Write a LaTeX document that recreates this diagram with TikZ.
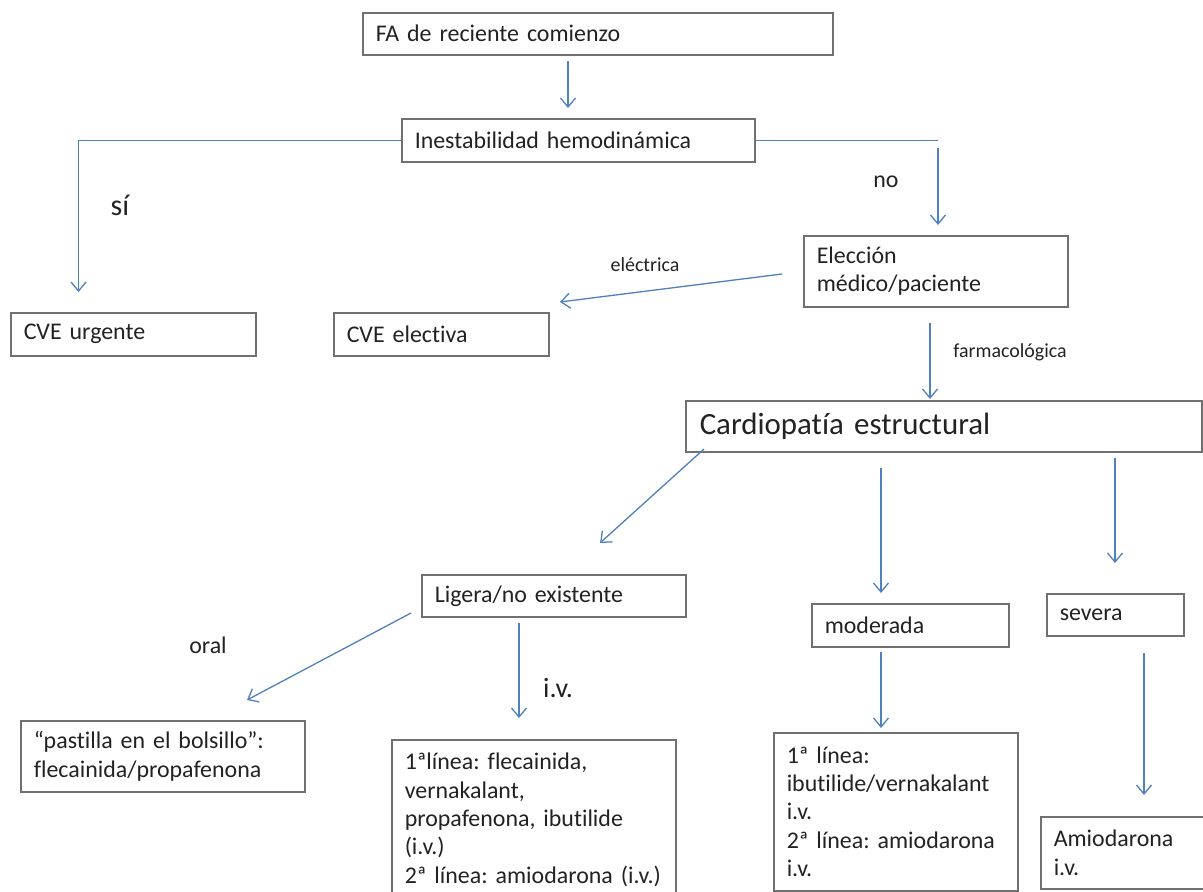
\documentclass[tikz,border=0pt]{standalone}
\usepackage{fontspec}
\setmainfont[Ligatures=NoCommon]{Carlito}
\usetikzlibrary{arrows.meta,calc}
\definecolor{flow}{HTML}{4F81BD}
\definecolor{frame}{HTML}{707070}
\definecolor{ink}{HTML}{222222}
\frenchspacing
\begin{document}
\begin{tikzpicture}[x=1bp,y=-1bp,
  box/.style={draw=frame, line width=1.5bp, anchor=north west, inner xsep=13bp,
    inner ysep=0bp, align=left, text=ink, font=\fontsize{24}{28.5}\selectfont},
  conn/.style={draw=flow, line width=1.3bp,
    -{Straight Barb[length=9bp,width=15bp,line width=1.3bp]}},
  plain/.style={draw=flow, line width=1.3bp},
  lbl/.style={text=ink, inner sep=0pt, font=\fontsize{24}{28}\selectfont},
  small/.style={lbl, font=\fontsize{20}{24}\selectfont}]

\useasboundingbox[fill=white] (0,0) rectangle (1203,892);

% decision boxes
\node[box, text width=444bp, minimum height=42bp] (fa) at (362,12) {FA de reciente comienzo};
\node[box, text width=327bp, minimum height=43bp] (inest) at (401,118) {Inestabilidad hemodinámica};
\node[box, text width=238bp, minimum height=71bp] (elec) at (803,235) {Elección\\médico/paciente};
\node[box, text width=219bp, minimum height=43bp] (cveu) at (10,312) {CVE urgente};
\node[box, text width=189bp, minimum height=43bp] (cvee) at (333,312) {CVE electiva};
\node[box, text width=488bp, minimum height=51bp, inner xsep=14bp,
      font=\fontsize{31}{36}\selectfont] (card) at (685,400) {Cardiopatía estructural};
\node[box, text width=238bp, minimum height=42bp] (lig) at (421,574) {Ligera/no existente};
\node[box, text width=171bp, minimum height=43bp] (mod) at (811,603) {moderada};
\node[box, text width=111bp, minimum height=42bp] (sev) at (1046,593) {severa};

% treatment boxes
\node[box, text width=258bp, minimum height=71bp] (past) at (20,720)
  {\mbox{“pastilla en el bolsillo”:}\\\mbox{flecainida/propafenona}};
\node[box, text width=258bp, minimum height=160bp] (lone) at (391,739)
  {\mbox{1ªlínea: flecainida,}\\vernakalant,\\\mbox{propafenona, ibutilide}\\(i.v.)\\\mbox{2ª línea: amiodarona (i.v.)}};
\node[box, text width=218bp, minimum height=158bp] (mone) at (773,732)
  {1ª línea:\\\mbox{ibutilide/vernakalant}\\i.v.\\\mbox{2ª línea: amiodarona}\\i.v.};
\node[box, text width=139bp, minimum height=72bp] (ami) at (1040,816) {Amiodarona\\i.v.};

% free ends of the connectors
\coordinate (faOut) at (568,61);
\coordinate (inestIn) at (568,108);
\coordinate (siTip) at (78.5,292);
\coordinate (noCorner) at (938,139.5);
\coordinate (noStart) at (938,148);
\coordinate (noTip) at (938,225);
\coordinate (elStart) at (782,274);
\coordinate (elTip) at (560,302);
\coordinate (faStart) at (930,323);
\coordinate (faTip) at (930,399);
\coordinate (ligStart) at (704,449);
\coordinate (ligTip) at (600,543);
\coordinate (modStart) at (881,468);
\coordinate (modTip) at (881,593);
\coordinate (sevStart) at (1115,458);
\coordinate (sevTip) at (1115,563);
\coordinate (oralStart) at (411,613);
\coordinate (oralTip) at (247,700);
\coordinate (ivStart) at (519,623);
\coordinate (ivTip) at (519,718);
\coordinate (mStart) at (881,652);
\coordinate (mTip) at (881,728);
\coordinate (sStart) at (1144,653);
\coordinate (sTip) at (1144,795);

% connectors
\draw[conn] (faOut) -- (inestIn);
\draw[conn] (inest.west) -| (siTip);
\draw[plain] (inest.east) -- (inest.east -| noCorner);
\draw[conn] (noStart) -- (noTip);
\draw[conn] (elStart) -- (elTip);
\draw[conn] (faStart) -- (faTip);
\draw[conn] (ligStart) -- (ligTip);
\draw[conn] (modStart) -- (modTip);
\draw[conn] (sevStart) -- (sevTip);
\draw[conn] (oralStart) -- (oralTip);
\draw[conn] (ivStart) -- (ivTip);
\draw[conn] (mStart) -- (mTip);
\draw[conn] (sStart) -- (sTip);

% branch labels
\node[lbl, font=\fontsize{30}{34}\selectfont] (si) at (120,205) {sí};
\node[lbl] (no) at (886,182) {no};
\node[small] (electrica) at (645,265) {eléctrica};
\node[small] (farma) at (1010,352) {farmacológica};
\node[lbl] (oral) at (208,645) {oral};
\node[lbl, font=\fontsize{28}{32}\selectfont] (iv) at (558,688) {i.v.};
\end{tikzpicture}
\end{document}
